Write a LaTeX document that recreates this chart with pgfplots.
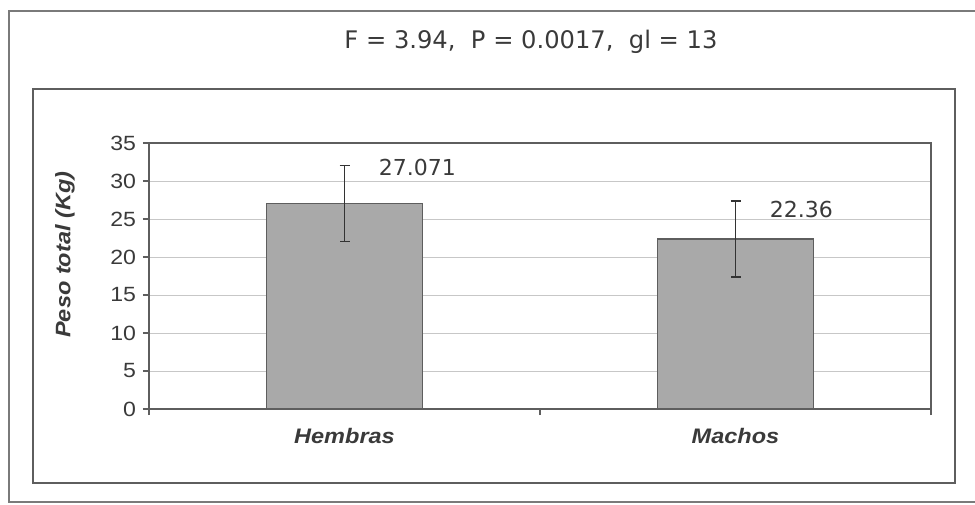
\documentclass[border=0pt]{standalone}
\usepackage{fontspec}
\setmainfont{Liberation Sans}[FakeStretch=1.12]
\newfontfamily\dejavu{DejaVu Sans}
\usepackage{pgfplots}
\pgfplotsset{compat=1.18}
\definecolor{barfill}{HTML}{A9A9A9}
\definecolor{frameclr}{HTML}{7A7A7A}
\definecolor{innerclr}{HTML}{5E5E5E}
\definecolor{txtclr}{HTML}{3A3A3A}
\begin{document}
\begin{tikzpicture}
\useasboundingbox (0,0) rectangle (487.5pt,-252pt);
\draw[frameclr, line width=0.7pt] (4.5pt,-5.5pt) rectangle (500pt,-251pt);
\draw[innerclr, line width=0.7pt] (16.5pt,-44.5pt) rectangle (477.5pt,-241.5pt);
\node[font=\dejavu\fontsize{12.1}{14}\selectfont, text=txtclr, anchor=base] at (265.5pt,-24pt) {F = 3.94,\ \ P = 0.0017,\ \ gl = 13};
\begin{axis}[
  at={(74.5pt,-204.5pt)}, anchor=south west,
  scale only axis, width=391pt, height=133pt,
  ybar,
  xmin=-0.5, xmax=1.5, ymin=0, ymax=35,
  ytick={0,5,...,35},
  xtick={-0.5,0.5,1.5}, xticklabels={,,},
  extra x ticks={0,1}, extra x tick labels={Hembras,Machos},
  extra x tick style={tick style={draw=none}},
  tick align=outside, major tick length=3pt,
  xtick pos=bottom, ytick pos=left,
  ymajorgrids, grid style={black!22, line width=0.5pt},
  axis line style={innerclr, line width=0.7pt},
  tick style={innerclr, line width=0.6pt},
  /pgf/number format/assume math mode=true,
  yticklabel style={font=\fontsize{10.3}{12}\selectfont, text=txtclr},
  xticklabel style={font=\fontsize{10.5}{12}\selectfont\bfseries\itshape, text=txtclr, yshift=-3pt},
  ylabel={Peso total (Kg)},
  ylabel style={font=\fontsize{10.5}{12}\selectfont\bfseries\itshape, text=txtclr, at={(axis description cs:0,0.58)}, anchor=center, rotate=0, yshift=42pt},
]
\addplot[fill=barfill, draw=innerclr, line width=0.6pt, bar width=78pt,
  error bars/.cd, y dir=both, y explicit,
  error bar style={black!80, line width=0.7pt},
  error mark options={rotate=90, black!80, line width=0.7pt, mark size=2.5pt}]
  coordinates {(0,27.071) +- (0,5) (1,22.36) +- (0,5)};
\node[anchor=west, inner sep=0pt, font=\dejavu\fontsize{11}{13}\selectfont, text=txtclr] at (axis cs:0.087,31.8) {27.071};
\node[anchor=west, inner sep=0pt, font=\dejavu\fontsize{11}{13}\selectfont, text=txtclr] at (axis cs:1.087,26.3) {22.36};
\end{axis}
\end{tikzpicture}
\end{document}
